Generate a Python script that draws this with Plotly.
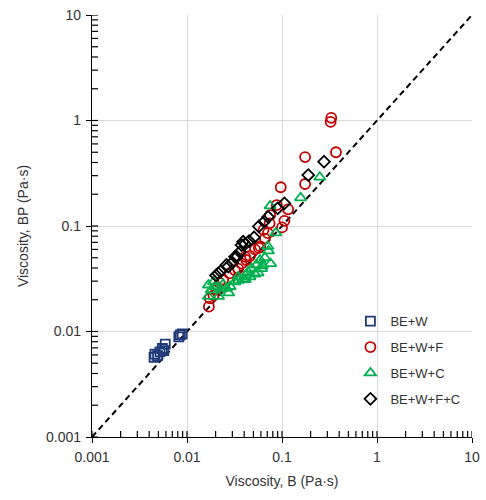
import plotly.graph_objects as go

# ---- data ----
bw_x = [0.0045, 0.0046, 0.0049, 0.0052, 0.0055, 0.0057, 0.0059, 0.0082, 0.0085, 0.0089]
bw_y = [0.0057, 0.0061, 0.0059, 0.0064, 0.0069, 0.0066, 0.0076, 0.0089, 0.0093, 0.0095]

f_x = [0.33, 0.325, 0.37, 0.175, 0.175, 0.097, 0.088, 0.116, 0.075, 0.106, 0.100, 0.074,
       0.064, 0.071, 0.066, 0.059, 0.057, 0.052, 0.046, 0.041, 0.042, 0.0375, 0.0345, 0.032,
       0.028, 0.024, 0.022, 0.0205, 0.019, 0.0174, 0.017]
f_y = [1.06, 0.97, 0.50, 0.45, 0.25, 0.233, 0.158, 0.144, 0.127, 0.112, 0.097, 0.106,
       0.092, 0.0855, 0.076, 0.064, 0.062, 0.060, 0.052, 0.051, 0.0476, 0.044, 0.0395, 0.038,
       0.0355, 0.031, 0.029, 0.025, 0.022, 0.0206, 0.0172]

c_x = [0.25, 0.157, 0.075, 0.086, 0.071, 0.076, 0.0587, 0.054, 0.061, 0.048, 0.044, 0.041,
       0.039, 0.0345, 0.032, 0.0284, 0.026, 0.0222, 0.0197, 0.018, 0.0168, 0.019, 0.0168,
       0.0275, 0.035, 0.041, 0.046, 0.052, 0.056, 0.062, 0.066, 0.072, 0.0215, 0.024]
c_y = [0.29, 0.185, 0.155, 0.086, 0.064, 0.044, 0.0476, 0.0427, 0.0395, 0.0395, 0.0366, 0.034,
       0.0316, 0.033, 0.0295, 0.0267, 0.0257, 0.0257, 0.0267, 0.0248, 0.0215, 0.0295, 0.0276,
       0.0232, 0.0305, 0.031, 0.033, 0.035, 0.036, 0.042, 0.050, 0.058, 0.0215, 0.028]

d_x = [0.277, 0.189, 0.106, 0.090, 0.0714, 0.057, 0.0508, 0.0408, 0.0375, 0.039, 0.0334,
       0.036, 0.032, 0.0272, 0.026, 0.0213, 0.0202, 0.0225, 0.030, 0.045, 0.065]
d_y = [0.407, 0.304, 0.164, 0.147, 0.122, 0.099, 0.078, 0.0675, 0.066, 0.071, 0.051,
       0.0567, 0.051, 0.0413, 0.0427, 0.0355, 0.034, 0.037, 0.045, 0.072, 0.110]

line_xy = [0.001, 10]
decades = [0.001, 0.01, 0.1, 1]
mults = [1, 2, 3, 4, 5, 6, 7, 8, 9]
all_ticks = [d * m for d in decades for m in mults] + [10]

series = [
    ("BE+W", bw_x, bw_y, "square-open", "#1F3A78", 9),
    ("BE+W+F", f_x, f_y, "circle-open", "#C00000", 10),
    ("BE+W+C", c_x, c_y, "triangle-up-open", "#00B050", 10),
    ("BE+W+F+C", d_x, d_y, "diamond-open", "#000000", 9),
]

FONT = "Liberation Sans, Arial, sans-serif"
TXT = "#333333"
PLOT_W, PLOT_H = 380, 422
fig = go.Figure()
fig.add_trace(go.Scatter(x=line_xy, y=line_xy, mode="lines",
                         line=dict(color="black", width=2, dash="6px,4px"),
                         showlegend=False, hoverinfo="skip"))
for name, xs, ys, sym, col, sz in series:
    fig.add_trace(go.Scatter(x=xs, y=ys, mode="markers", name=name, legendgroup=name,
                             marker=dict(symbol=sym, size=sz, color=col,
                                         line=dict(width=1.8, color=col))))

# inside tick marks (minor and major) drawn as short lines at axis tick positions
for t in all_ticks:
    fig.add_shape(type="line", xref="x", yref="paper", x0=t, x1=t,
                  y0=0, y1=6 / PLOT_H, line=dict(color="black", width=1.2), layer="above")
    fig.add_shape(type="line", xref="paper", yref="y", y0=t, y1=t,
                  x0=0, x1=6 / PLOT_W, line=dict(color="black", width=1.2), layer="above")

axis_common = dict(
    type="log", range=[-3, 1], dtick=1, exponentformat="none", automargin=False,
    showgrid=True, gridcolor="#D9D9D9", gridwidth=1,
    showline=True, linecolor="black", linewidth=1.3, mirror=False,
    ticks="outside", ticklen=5, tickcolor="black", tickwidth=1.2,
    tickfont=dict(family=FONT, size=14, color=TXT),
    zeroline=False,
)
fig.update_layout(
    xaxis=dict(**axis_common, ticklabelstandoff=2,
               title=dict(text="Viscosity, B (Pa·s)", font=dict(family=FONT, size=14, color=TXT), standoff=12)),
    yaxis=dict(**axis_common, ticklabelstandoff=2,
               title=dict(text="Viscosity, BP (Pa·s)", font=dict(family=FONT, size=14, color=TXT), standoff=14)),
    width=486, height=500,
    margin=dict(l=92, r=14, t=15, b=63),
    paper_bgcolor="white", plot_bgcolor="white",
    font=dict(family=FONT, size=13, color=TXT),
    legend=dict(x=0.68, y=0.31, xanchor="left", yanchor="top",
                bgcolor="rgba(255,255,255,0)", tracegroupgap=6,
                font=dict(family=FONT, size=13, color=TXT),
                itemwidth=30),
    showlegend=True,
)
fig.write_html("out.html")
